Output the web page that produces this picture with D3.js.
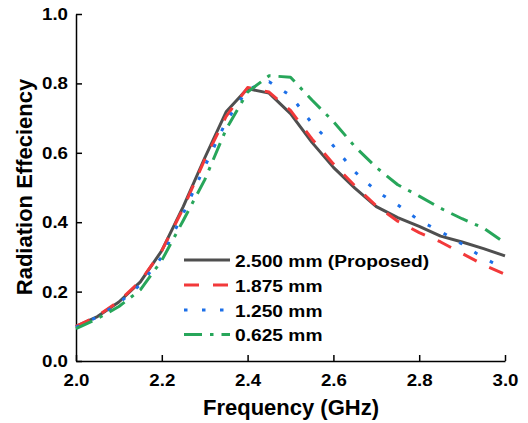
<!DOCTYPE html>
<html>
<head>
<meta charset="utf-8">
<script src="https://cdn.jsdelivr.net/npm/d3@7/dist/d3.min.js"></script>
<style>
  html, body { margin: 0; padding: 0; background: #fff; }
  svg { display: block; }
  text { font-family: Arial, "Liberation Sans", sans-serif; font-weight: bold; fill: #000; }
</style>
</head>
<body>
<svg id="chart" width="528" height="423"></svg>
<script>
// ---- data ----
const freq = [2.00, 2.05, 2.10, 2.15, 2.20, 2.25, 2.30, 2.35, 2.40, 2.45, 2.50,
              2.55, 2.60, 2.65, 2.70, 2.75, 2.80, 2.85, 2.90, 2.95, 3.00];
const eff2500 = [0.100, 0.128, 0.170, 0.228, 0.318, 0.445, 0.585, 0.718, 0.785, 0.772, 0.713,
                 0.630, 0.558, 0.498, 0.445, 0.413, 0.388, 0.360, 0.343, 0.324, 0.303];
const eff1875 = [0.100, 0.130, 0.172, 0.230, 0.318, 0.440, 0.580, 0.705, 0.788, 0.775, 0.722,
                 0.640, 0.568, 0.505, 0.447, 0.403, 0.370, 0.343, 0.310, 0.277, 0.250];
const eff1250 = [0.097, 0.127, 0.167, 0.220, 0.300, 0.425, 0.560, 0.690, 0.783, 0.805, 0.765,
                 0.685, 0.620, 0.545, 0.490, 0.450, 0.405, 0.373, 0.337, 0.297, 0.265];
const eff0625 = [0.093, 0.122, 0.157, 0.205, 0.290, 0.405, 0.522, 0.668, 0.775, 0.822, 0.818,
                 0.752, 0.690, 0.618, 0.558, 0.508, 0.475, 0.440, 0.410, 0.383, 0.340];
const seriesNames = ["2.500 mm (Proposed)", "1.875 mm", "1.250 mm", "0.625 mm"];
const xTicks = [2.0, 2.2, 2.4, 2.6, 2.8, 3.0];
const yTicks = [0.0, 0.2, 0.4, 0.6, 0.8, 1.0];
const xTitle = "Frequency (GHz)";
const yTitle = "Radiation Effeciency";

// ---- styles ----
const styles = [
  { color: "#4f4f4f", dash: null },
  { color: "#f2393a", dash: "15,14" },
  { color: "#1c6fe8", dash: "3.5,14.5" },
  { color: "#27a65a", dash: "18,8,3.5,8" }
];
const seriesValues = [eff2500, eff1875, eff1250, eff0625];

const svg = d3.select("#chart");
const x = d3.scaleLinear().domain([2, 3]).range([76, 505]);
const y = d3.scaleLinear().domain([0, 1]).range([361, 14]);
const sx = 1.1;

// axes
const xAxis = svg.append("g").attr("transform", "translate(0,361)")
  .call(d3.axisBottom(x).tickValues(xTicks).tickFormat(d3.format(".1f"))
        .tickSizeInner(-6).tickSizeOuter(0).tickPadding(13));
const yAxis = svg.append("g").attr("transform", "translate(76,0)")
  .call(d3.axisLeft(y).tickValues(yTicks).tickFormat(d3.format(".1f"))
        .tickSizeInner(-6).tickSizeOuter(0).tickPadding(8));
[xAxis, yAxis].forEach(g => {
  g.select(".domain").attr("stroke", "#000").attr("stroke-width", 1.5);
  g.selectAll(".tick line").attr("stroke", "#000").attr("stroke-width", 1.5);
  g.selectAll(".tick text").attr("font-size", 17).attr("font-family", null).attr("fill", "#000")
    .attr("transform", `scale(${sx},1)`);
});
yAxis.selectAll(".tick text").attr("x", -8 / sx);

// lines
const line = d3.line().x((d, i) => x(freq[i])).y(d => y(d));
seriesValues.forEach((vals, k) => {
  svg.append("path")
    .datum(vals)
    .attr("fill", "none")
    .attr("stroke", styles[k].color)
    .attr("stroke-width", 3)
    .attr("stroke-linejoin", "round")
    .attr("stroke-dasharray", styles[k].dash)
    .attr("d", line);
});

// legend
const legY = [260, 285, 310, 334.5];
seriesNames.forEach((name, k) => {
  svg.append("line")
    .attr("x1", 184).attr("x2", 230)
    .attr("y1", legY[k]).attr("y2", legY[k])
    .attr("stroke", styles[k].color)
    .attr("stroke-width", 3)
    .attr("stroke-dasharray", styles[k].dash);
  svg.append("text")
    .attr("transform", `translate(235,${legY[k] + 6.5}) scale(1.13,1)`)
    .attr("font-size", 17)
    .text(name);
});

// titles
svg.append("text")
  .attr("x", 291).attr("y", 415)
  .attr("text-anchor", "middle")
  .attr("font-size", 22)
  .text(xTitle);
svg.append("text")
  .attr("transform", "translate(32,187) rotate(-90)")
  .attr("text-anchor", "middle")
  .attr("font-size", 22)
  .text(yTitle);
</script>
</body>
</html>
